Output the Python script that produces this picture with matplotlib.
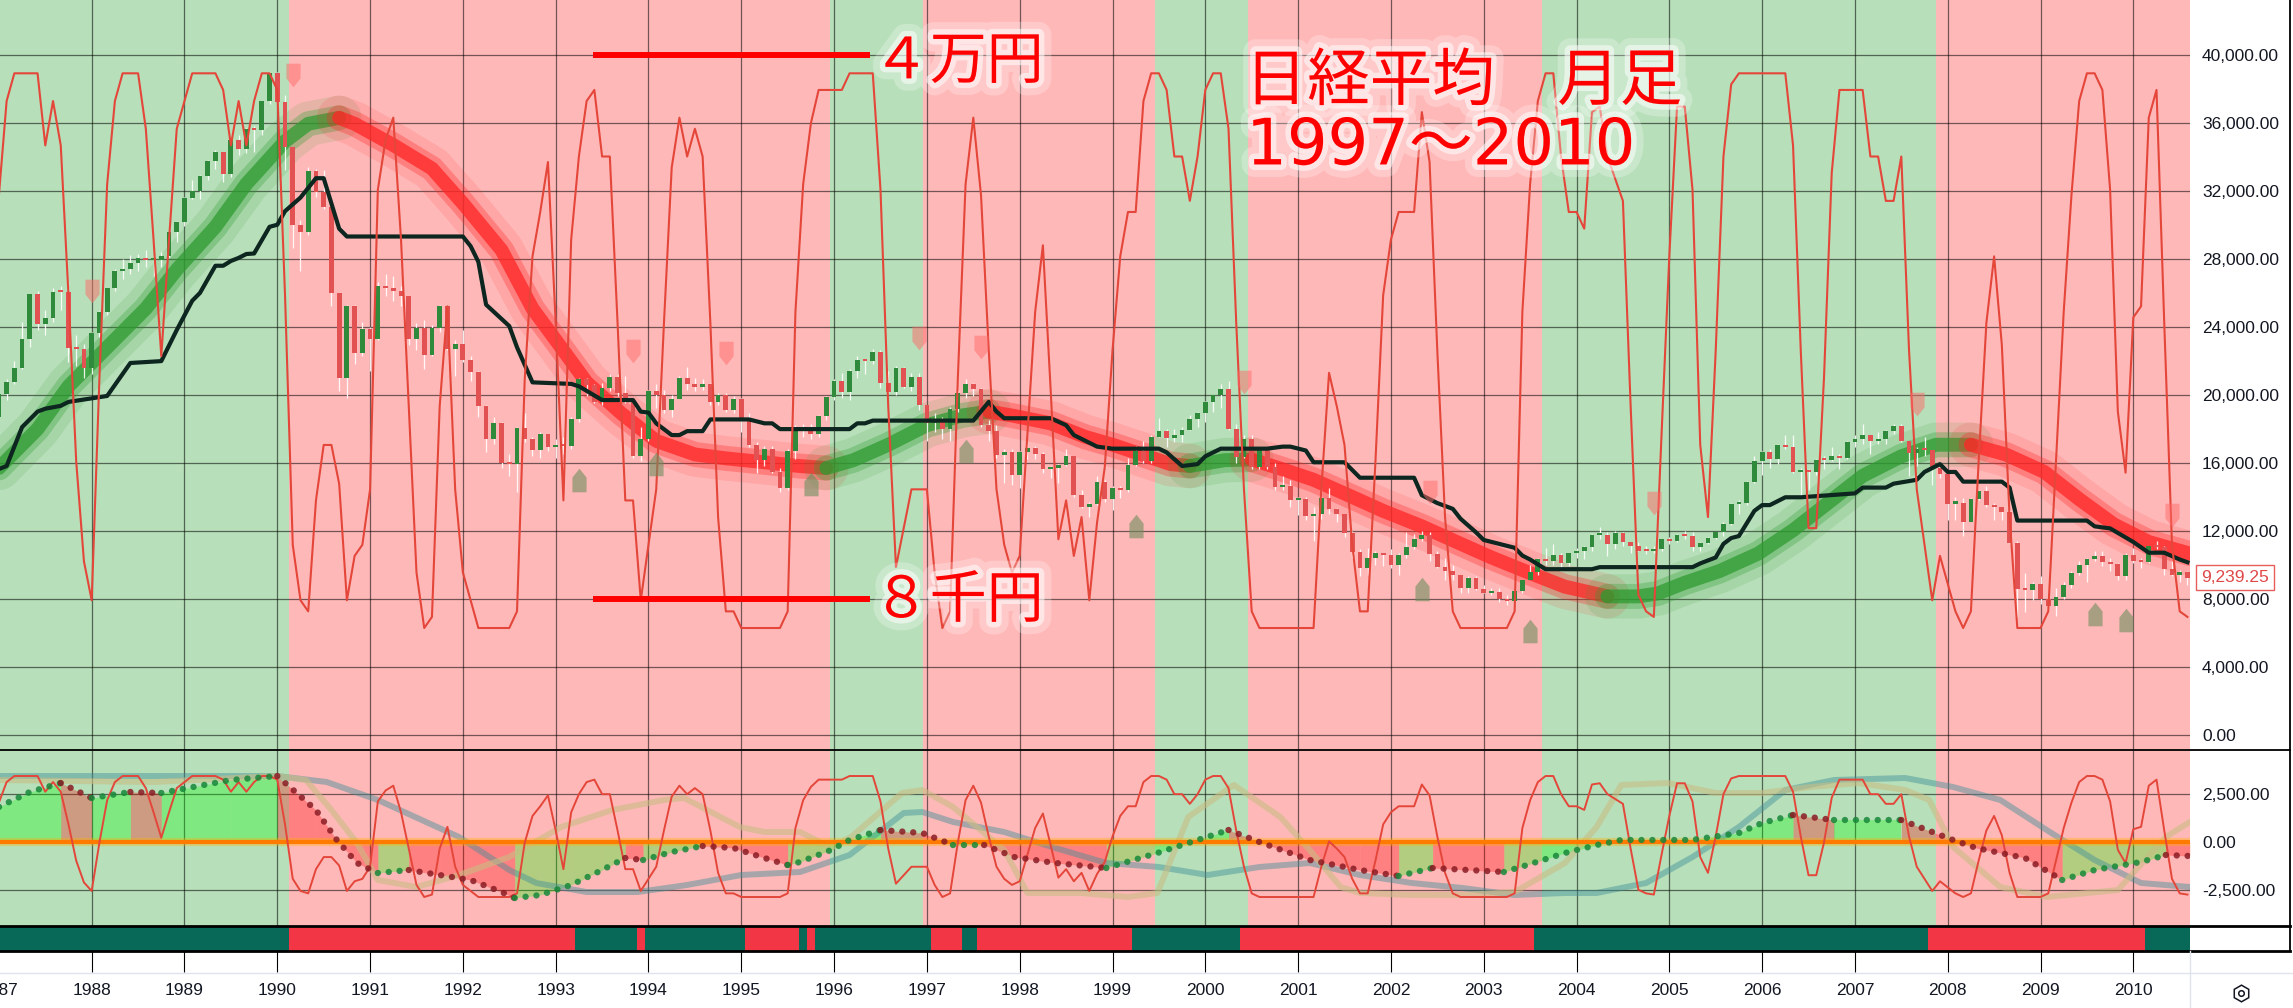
import matplotlib
matplotlib.use("Agg")
import matplotlib.pyplot as plt
import matplotlib.patheffects as pe
import matplotlib.transforms as mtransforms
from matplotlib.lines import Line2D
from matplotlib.path import Path

W, H = 2293, 1008

# ---- data, month index 0 = Jan 1987 ... 283 = Aug 2010 ----
first_open = 18701
closes = [
    20048, 20767, 21566, 23274, 25929, 24176, 24488, 26029, 26011, 22765, 22686, 21564,
    23622, 24872, 26260, 27256, 27417, 27769, 28038, 27923, 27924, 28167, 29579, 30159,
    31581, 31985, 32839, 33713, 34267, 32949, 34954, 34431, 35637, 35549, 37269, 38916,
    37189, 34592, 29980, 29585, 33131, 31940, 31036, 25978, 20984, 25195, 22455, 23849,
    23293, 26409, 26292, 26111, 25790, 23291, 23900, 22336, 23916, 25222, 22687, 22984,
    22023, 21339, 19346, 17391, 18348, 15952, 15910, 18061, 17399, 16767, 17684, 16925,
    17024, 16953, 18591, 20919, 20552, 19590, 20380, 21027, 20106, 19703, 16408, 17417,
    20229, 19997, 19112, 19725, 20974, 20644, 20449, 20629, 19564, 19990, 19076, 19723,
    18650, 17054, 16140, 16807, 15437, 14517, 16678, 18117, 17913, 17655, 18744, 19868,
    20813, 20125, 21407, 22041, 21956, 22531, 20693, 20167, 21556, 20466, 21020, 19361,
    18330, 18557, 18003, 19151, 20068, 20605, 20331, 18229, 17888, 16459, 16636, 15259,
    16628, 16831, 16527, 15641, 15671, 15830, 16379, 14108, 13406, 13564, 14883, 13842,
    14499, 14368, 15837, 16702, 16112, 17530, 17862, 17437, 17606, 17942, 18558, 18934,
    19540, 19960, 20337, 17974, 16332, 17411, 15727, 16861, 15747, 14540, 14649, 13786,
    13844, 12884, 12999, 13934, 13262, 12969, 11861, 10714, 9775, 10367, 10697, 10543,
    9998, 10588, 11025, 11493, 11764, 10622, 9877, 9619, 9383, 8640, 9216, 8579,
    8340, 8363, 7973, 7831, 8425, 9083, 9563, 10344, 10219, 10560, 10101, 10677,
    10784, 11042, 11715, 11762, 11236, 11858, 11326, 11082, 10824, 10771, 10899, 11489,
    11388, 11741, 11669, 11009, 11277, 11584, 11900, 12414, 13574, 13607, 14872, 16111,
    16650, 16206, 17060, 16907, 15468, 15505, 15457, 16141, 16128, 16399, 16274, 17226,
    17383, 17604, 17288, 17400, 17876, 18138, 17249, 16569, 16786, 16737, 15681, 15308,
    13592, 13603, 12526, 13850, 14339, 13481, 13377, 13073, 11260, 8577, 8512, 8860,
    7994, 7568, 8110, 8828, 9523, 9958, 10357, 10493, 10133, 10035, 9346, 10546,
    10198, 10126, 11090, 11057, 9769, 9383, 9537, 9239.25,
]
highs = [
    20400, 20900, 22000, 24300, 25930, 26100, 25000, 26300, 26400, 26650, 23500, 23000,
    23700, 24900, 26300, 27400, 28000, 28200, 28300, 28500, 28100, 28400, 29700, 30200,
    31600, 32600, 32900, 33800, 34400, 34300, 35000, 35300, 35700, 35800, 37300, 38957,
    38950, 37600, 34300, 30300, 33400, 33300, 33200, 31000, 26000, 25300, 25300, 24300,
    24000, 26600, 27100, 27000, 26400, 25800, 24200, 24400, 24100, 25300, 25300, 23200,
    23800, 22300, 21400, 19400, 18700, 18400, 16500, 18100, 18900, 17500, 17800, 17700,
    17400, 17500, 18700, 20950, 21000, 20600, 20700, 21200, 21200, 21100, 19800, 18100,
    20300, 20600, 20300, 20000, 21100, 21600, 21000, 20900, 20700, 20100, 20100, 19900,
    19800, 18900, 17200, 17000, 17000, 15700, 16800, 18200, 18300, 18300, 18800, 19900,
    20900, 21300, 21500, 22300, 22100, 22700, 22600, 21400, 21700, 21600, 21300, 21300,
    19400, 18900, 18700, 19300, 20300, 20900, 20700, 20400, 18500, 18200, 16800, 16800,
    16700, 17300, 17000, 16600, 15800, 15900, 16800, 16400, 14400, 13700, 15200, 15000,
    14600, 14600, 16300, 17000, 17300, 17600, 18600, 18000, 18000, 18100, 18800, 19000,
    19600, 20000, 20600, 20800, 18300, 17600, 17600, 16900, 16900, 16000, 15200, 15000,
    14000, 14000, 13400, 14500, 14500, 13300, 12900, 12000, 10900, 11000, 10800, 10700,
    10900, 10700, 11900, 11800, 12000, 11900, 10800, 10400, 10000, 9400, 9300, 9300,
    8800, 8600, 8600, 8200, 8600, 9100, 10000, 10400, 11000, 11200, 10700, 10700,
    11000, 11100, 11800, 12200, 11900, 12000, 11900, 11300, 11300, 11100, 11100, 11500,
    11600, 11800, 12000, 11900, 11300, 11600, 11900, 12500, 13600, 13800, 14900, 16400,
    16700, 16800, 17100, 17600, 17600, 15700, 15600, 16200, 16400, 16900, 16500, 17300,
    17600, 18300, 17600, 17800, 17900, 18300, 18300, 17300, 16900, 17500, 16600, 16000,
    15400, 14000, 13900, 13900, 14400, 14600, 13600, 13400, 13200, 11400, 9500, 9000,
    9300, 8100, 8600, 9000, 9600, 10200, 10400, 10800, 10800, 10400, 10100, 10700,
    11000, 10400, 11100, 11400, 11100, 10200, 9700, 9600,
]
lows = [
    18500, 19700, 20600, 21500, 22800, 23800, 23500, 24300, 25000, 21900, 21700, 21000,
    21200, 23400, 24700, 26100, 26800, 27100, 27300, 27500, 27000, 27500, 28100, 29000,
    29900, 31500, 31500, 32600, 33300, 32500, 32800, 34100, 34200, 34300, 35300, 37100,
    36900, 33200, 28600, 27300, 29400, 31600, 30900, 25200, 20200, 19800, 21800, 22300,
    21400, 23200, 25800, 25500, 25200, 22900, 22600, 21500, 22300, 23700, 22600, 21100,
    21900, 20800, 18700, 16600, 17100, 15700, 15200, 14300, 17200, 16400, 16300, 16700,
    16300, 16500, 16800, 18400, 19900, 19500, 19400, 20200, 19900, 19500, 16300, 16100,
    17300, 19200, 18900, 18700, 19800, 20300, 20200, 20300, 19400, 19400, 19000, 18900,
    17800, 16900, 15400, 15800, 15400, 14300, 14400, 16200, 17500, 17400, 17500, 18500,
    19700, 19800, 19700, 21000, 21200, 21800, 20400, 20100, 20000, 20400, 20200, 19100,
    17300, 17800, 17400, 17300, 19000, 19800, 19900, 18100, 17300, 16300, 14800, 14700,
    14500, 16200, 16200, 15400, 15100, 14800, 15800, 14000, 13300, 12800, 13500, 13700,
    13200, 13900, 14300, 15800, 16000, 16000, 17500, 16900, 17200, 17200, 17900, 18100,
    18400, 19000, 19200, 17900, 16000, 16300, 15600, 15600, 15600, 14400, 14400, 13400,
    12900, 12600, 11400, 12700, 13000, 12500, 11600, 10400, 9300, 9400, 10000, 9900,
    9800, 9400, 10400, 10900, 11400, 10200, 9800, 9100, 9100, 8300, 8300, 8500,
    8300, 8200, 7800, 7600, 7800, 8300, 9200, 9400, 10000, 10000, 9600, 9900,
    10400, 10300, 10800, 11500, 10500, 10900, 11100, 10700, 10800, 10600, 10700, 10800,
    11200, 11300, 11500, 10800, 10800, 11200, 11500, 11700, 12300, 13000, 13500, 14800,
    15300, 15700, 15900, 16800, 15400, 14000, 14400, 15300, 15600, 16100, 15600, 16200,
    16900, 17100, 16500, 17100, 17100, 17700, 17200, 15200, 15800, 16400, 14700, 15100,
    12600, 12600, 11700, 12600, 13800, 13400, 12600, 12600, 11200, 6900, 7200, 7900,
    7700, 7300, 7000, 8000, 8600, 9400, 9000, 10200, 9900, 9600, 9100, 9100,
    10100, 9800, 10100, 10900, 9400, 9300, 9000, 8800,
]
# stochastic oscillator (0-100), monthly
stoch = [
    78, 95, 100, 100, 100, 100, 87, 95, 87, 60, 30, 12,
    5, 45, 80, 95, 100, 100, 100, 90, 70, 49, 70, 90,
    95, 100, 100, 100, 100, 97, 87, 95, 87, 95, 100, 100,
    97, 60, 15, 5, 3, 23, 33, 33, 26, 5, 13, 15,
    25, 79, 88, 92, 70, 40, 10, 0, 2, 40, 58, 25,
    10, 5, 0, 0, 0, 0, 0, 3, 45, 67, 75, 84,
    55, 23, 70, 85, 95, 97, 85, 85, 55, 23, 23, 5,
    15, 25, 55, 83, 92, 85, 90, 85, 55, 20, 3, 3,
    0, 0, 0, 0, 0, 0, 3, 57, 80, 91, 97, 97,
    97, 97, 100, 100, 100, 100, 79, 40, 11, 18, 25, 25,
    25, 10, 0, 3, 45, 80, 92, 78, 50, 25, 15, 10,
    13, 35, 57, 69, 43, 16, 23, 13, 20, 5, 19, 29,
    50, 67, 75, 75, 95, 100, 100, 97, 85, 85, 77, 85,
    97, 100, 100, 90, 55, 25, 3, 0, 0, 0, 0, 0,
    0, 0, 0, 25, 46, 40, 33, 15, 3, 3, 30, 60,
    70, 75, 75, 75, 93, 84, 50, 20, 3, 0, 0, 0,
    0, 0, 0, 0, 3, 57, 80, 95, 100, 100, 85, 75,
    75, 72, 93, 94, 85, 81, 77, 40, 6, 3, 2, 35,
    67, 94, 94, 79, 33, 20, 50, 85, 98, 100, 100, 100,
    100, 100, 100, 100, 87, 50, 18, 18, 45, 82, 97, 97,
    97, 97, 85, 85, 77, 77, 85, 50, 25, 15, 5, 13,
    8, 3, 0, 3, 30, 55, 67, 51, 20, 0, 0, 0,
    0, 3, 30, 57, 78, 95, 100, 100, 97, 79, 39, 28,
    56, 58, 92, 97, 55, 15, 3, 2,
]
# long smoothed moving average (glowing band)
ma_months = [0, 5, 9, 14, 19, 23, 28, 32, 37, 40, 44, 46, 51, 56, 60, 65, 69, 72.5, 76, 80.5,
             85, 90, 94, 99, 103.5, 107, 110.5, 115, 120, 124.5, 128, 131, 136, 140.5, 144, 147,
             151.5, 154, 158.5, 162, 165.5, 170, 174.5, 179, 184, 188.5, 193, 198, 202.5, 208,
             212, 214.5, 218, 222.5, 227.5, 232, 236.5, 241, 246, 250.5, 255, 259.5, 264.5, 269,
             273.5, 278, 283.3]
ma_values = [15680, 17980, 20490, 22780, 25060, 27350, 29870, 32390, 34900, 35930, 36280, 35930,
             34680, 33300, 31250, 28500, 25060, 22900, 20720, 18890, 17280, 16480, 16250, 16020,
             15800, 15680, 16140, 17050, 18200, 18770, 19000, 18770, 18310, 17510, 17050, 16600,
             15910, 15800, 16140, 16180, 15680, 14990, 14080, 13160, 12250, 11330, 10420, 9500,
             8700, 8130, 8130, 8300, 8930, 9620, 10650, 12020, 13620, 15220, 16370, 17050, 17050,
             16480, 15450, 13850, 12360, 11330, 10650]
# black stepped baseline
base_months = [0, 1, 3, 5, 6, 8, 9, 14, 17, 21, 23, 25, 26, 28, 29, 30, 31, 32, 33, 35, 36, 37,
               39, 41, 42, 43, 44, 45, 60, 61, 62, 63, 66, 67, 69, 74, 75, 78, 82, 83, 84, 85, 87,
               88, 89, 91, 92, 97, 99, 100, 101, 110, 111, 112, 113, 126, 128, 129, 130, 136, 138,
               139, 142, 144, 150, 151, 153, 155, 156, 158, 164, 166, 167, 169, 170, 174, 176,
               183, 184, 186, 188, 189, 191, 192, 194, 196, 197, 198, 200, 206, 207, 219, 220,
               222, 223, 224, 225, 227, 228, 229, 231, 233, 240, 241, 244, 245, 248, 249, 251,
               252, 253, 254, 259, 260, 261, 270, 271, 273, 276, 278, 280, 282, 283]
base_values = [15620, 15800, 18090, 19000, 19170, 19340, 19570, 19920, 21860, 21970, 23800, 25520,
               25980, 27580, 27580, 27860, 28040, 28270, 28300, 29870, 29990, 30790, 31590, 32730,
               32730, 31240, 29760, 29300, 29300, 28730, 27810, 25290, 24030, 22780, 20720, 20630,
               20490, 19680, 19680, 19000, 18940, 18310, 17620, 17620, 17850, 17850, 18540, 18540,
               18310, 18310, 17970, 17970, 18310, 18310, 18470, 18470, 19570, 19000, 18610, 18610,
               18200, 17620, 16940, 16820, 16820, 16600, 15800, 15910, 16370, 16820, 16820, 16940,
               16940, 16710, 16020, 16020, 15110, 15110, 14080, 13620, 13280, 12700, 11900, 11450,
               11220, 10990, 10530, 10300, 9730, 9730, 9850, 9850, 10070, 10420, 11220, 11560,
               11680, 13160, 13500, 13500, 13960, 13960, 14190, 14530, 14530, 14760, 14990, 15450,
               15910, 15450, 15450, 14880, 14880, 14530, 12590, 12590, 12250, 12130, 11330, 10700,
               10700, 10300, 10140]
# lower panel: dotted oscillator, two slow lines
osc_months = [0, 4, 8, 12, 17, 21, 26.5, 30, 36, 38.5, 41, 43.7, 46.3, 49, 53, 57, 61, 65, 66.7,
              70, 74, 78, 81, 83.3, 87, 91, 95, 99, 102, 103.6, 107.6, 110, 114, 119.4, 123.4,
              127.4, 131.3, 136.6, 143.2, 149.8, 155, 159, 163, 169.5, 176, 181, 185.4, 194.6,
              197.2, 202.5, 206.6, 209.8, 218.9, 225, 228, 232, 237.3, 246, 252.7, 255.7, 262,
              266.8, 271, 277, 280.2, 283.3]
osc_values = [1815, 2594, 3060, 2282, 2594, 2542, 2957, 3216, 3423, 2542, 1660, 104, -1089, -1608,
              -1452, -1712, -1971, -2594, -2905, -2749, -2230, -1452, -830, -934, -519, -207, -311,
              -830, -1193, -1037, -415, 104, 622, 467, -156, -156, -778, -1089, -1349, -571, 104,
              622, 0, -934, -1452, -1764, -1349, -1556, -1245, -571, -156, 104, 104, 467, 986,
              1400, 1141, 1141, 104, -311, -830, -1971, -1452, -1037, -674, -726]
teal_months = [0, 36, 42.4, 49, 59.5, 66, 69.5, 76, 82.6, 89, 96, 103.6, 110, 117, 119.4, 123.4,
               130, 136.6, 143.2, 150, 156.3, 163, 169.5, 176, 182.7, 189.3, 196, 202.5, 206.6,
               213, 219, 225, 231, 237.3, 246.5, 252.7, 258.8, 264.8, 271, 277, 283.3]
teal_values = [3423, 3423, 3112, 2179, 259, -1452, -2127, -2594, -2594, -2230, -1712, -1556, -674,
               1504, 1556, 1037, 519, -311, -1089, -1297, -1712, -1297, -1089, -1712, -2127,
               -2386, -2749, -2645, -2645, -2127, -778, 778, 2697, 3216, 3320, 2853, 2179, 622,
               -934, -2127, -2334]
beige_months = [0, 20, 36, 39.7, 43, 46.3, 49, 54, 59.5, 66, 72.7, 79.3, 86, 88.6, 95.8, 99,
                103.6, 107.6, 110.2, 116.8, 119.4, 123.4, 130, 133, 140, 146, 149.8, 153.8, 159.7,
                165.7, 169.5, 173.5, 176, 182.7, 189.3, 196, 202.5, 206.6, 209.8, 215.8, 222, 228,
                234.3, 240.4, 246.5, 249.6, 252.7, 258.8, 264.8, 274, 280.2, 283.3]
beige_values = [3216, 3112, 3423, 3216, 1660, -52, -1971, -2334, -1712, -778, 778, 1660, 2179,
                2282, 778, 519, 519, -300, 259, 2542, 2697, 1815, -415, -2645, -2645, -2853,
                -2645, 1297, 2957, 1297, -415, -2334, -2645, -2749, -2749, -2594, -1089, 778,
                2957, 3060, 2542, 2542, 2853, 3060, 2697, 2179, -259, -2334, -2853, -2490, 259,
                1037]
# regime colouring: months where the state flips (starts green)
bg_flips = [38, 108, 120, 150, 162, 200, 251]
strip_flips = [38, 75, 83, 84, 97, 104, 105, 106, 121, 125, 127, 147, 161, 199, 250, 278]
# signal labels
sell_months = [12, 38, 82, 94, 119, 127, 161, 185, 214, 248, 281]
sell_prices = [26080, 38800, 22560, 22450, 23350, 22800, 20720, 14300, 13620, 19460, 12930]
buy_months = [75, 85, 105, 125, 147, 184, 198, 271, 275]
buy_prices = [14990, 15920, 14760, 16710, 12270, 8590, 6070, 7090, 6750]

years = list(range(1988, 2011))
main_ticks = list(range(0, 40001, 4000))
low_ticks = [-2500, 0, 2500]
last_price = 9239.25

GREEN_BG, PINK_BG = "#b7dfb9", "#ffb8b8"
plt.rcParams["font.family"] = ["Liberation Sans", "DejaVu Sans"]

fig = plt.figure(figsize=(W / 100, H / 100), dpi=100)


def fx(px):
    return px / W


def fy(py):
    return 1 - py / H


ax = fig.add_axes([0, fy(750), fx(2190), 750 / H])
axl = fig.add_axes([0, fy(926), fx(2190), 176 / H])
axs = fig.add_axes([0, fy(951), fx(2190), 25 / H])
n = len(closes)
idx = list(range(n))
year_months = [(y - 1987) * 12 for y in years]


def runs(flips, n):
    edges = [0] + flips + [n]
    return [(edges[k], edges[k + 1], k % 2 == 0) for k in range(len(edges) - 1)]


def slope_runs(xs, ys):
    out = []
    cx, cy = [xs[0]], [ys[0]]
    cur = ys[1] >= ys[0]
    for k in range(1, len(xs)):
        up = ys[k] >= ys[k - 1]
        if up != cur:
            out.append((cur, cx, cy))
            cx, cy = [xs[k - 1]], [ys[k - 1]]
            cur = up
        cx.append(xs[k])
        cy.append(ys[k])
    out.append((cur, cx, cy))
    return out


for a in (ax, axl, axs):
    a.set_xlim(0.144, 283.33)
    a.set_facecolor("none")
    for s in a.spines.values():
        s.set_visible(False)

# backgrounds
for a in (ax, axl):
    for s0, s1, green in runs(bg_flips, n):
        a.axvspan(s0 - 0.5, s1 - 0.5, color=GREEN_BG if green else PINK_BG, lw=0, zorder=0)
    for m in year_months:
        a.axvline(m, color="black", lw=0.9, alpha=0.55, zorder=1.5)

for s0, s1, green in runs(strip_flips, n):
    axs.axvspan(s0 - 0.5, s1 - 0.5, color="#096958" if green else "#f23645", lw=0)

# ---- main panel ----
ax.set_ylim(-906, 43212)
for v in main_ticks:
    ax.axhline(v, color="black", lw=0.9, alpha=0.55, zorder=1.5)

for rising, xs, ys in slope_runs(ma_months, ma_values):
    col = "#2e9b30" if rising else "#ff2626"
    ax.plot(xs, ys, color=col, lw=32, alpha=0.12, solid_capstyle="round", zorder=3)
    ax.plot(xs, ys, color=col, lw=18, alpha=0.3, solid_capstyle="round", zorder=3)
    ax.plot(xs, ys, color=col, lw=10, alpha=0.75, solid_capstyle="round", zorder=3)

opens = [first_open] + closes[:-1]
ax.vlines(idx, lows, highs, color="white", lw=0.9, alpha=0.9, zorder=4)
ax.bar(idx, [max(abs(c - o), 120) for o, c in zip(opens, closes)],
       bottom=[min(o, c) for o, c in zip(opens, closes)], width=0.62, lw=0,
       color=["#2f8a3c" if c >= o else "#e25252" for o, c in zip(opens, closes)], zorder=5)

ax.plot(base_months, base_values, color="#0d2620", lw=3.0, zorder=6)
ax.plot(idx, [6270 + 326.3 * s for s in stoch], color="#e4463a", lw=1.5, zorder=7)

down_tag = Path([(-0.6, 1), (0.6, 1), (0.6, -0.25), (0, -1), (-0.6, -0.25), (-0.6, 1)],
                [Path.MOVETO] + [Path.LINETO] * 4 + [Path.CLOSEPOLY])
up_tag = Path([(-0.6, -1), (0.6, -1), (0.6, 0.25), (0, 1), (-0.6, 0.25), (-0.6, -1)],
              [Path.MOVETO] + [Path.LINETO] * 4 + [Path.CLOSEPOLY])
ax.plot(sell_months, sell_prices, ls="none", marker=down_tag, ms=17, mew=0,
        mfc="#ff6b6b", alpha=0.5, zorder=8)
ax.plot(buy_months, buy_prices, ls="none", marker=up_tag, ms=17, mew=0,
        mfc="#6f8f5f", alpha=0.6, zorder=8)

glow = [pe.Stroke(linewidth=18, foreground="white", alpha=0.25),
        pe.Stroke(linewidth=8, foreground="white", alpha=0.55), pe.Normal()]
jp = ["Noto Sans CJK JP", "DejaVu Sans"]
digits_jp = ["DejaVu Sans", "Noto Sans CJK JP"]
ax.hlines([40000, 8000], 76.8, 112.6, color="#ff0000", lw=4.3, zorder=9)
ax.text(113.0, 39560, "４万円", fontsize=41, color="#ff0000", family=jp,
        ha="left", va="center", path_effects=glow, zorder=10)
ax.text(113.0, 7860, "８千円", fontsize=41, color="#ff0000", family=jp,
        ha="left", va="center", path_effects=glow, zorder=10)
ax.text(161.1, 38390, "日経平均　月足", fontsize=45, color="#ff0000", family=jp,
        ha="left", va="center", path_effects=glow, zorder=10)
ax.text(161.3, 34600, "1997～2010", fontsize=46, color="#ff0000", family=digits_jp,
        ha="left", va="center", path_effects=glow, zorder=10)

ax.yaxis.tick_right()
ax.set_yticks(main_ticks)
ax.set_yticklabels([f"{v:,.2f}" for v in main_ticks])
ax.tick_params(axis="y", length=0, pad=8.6, labelsize=12.5, labelcolor="#131722")
ax.tick_params(axis="x", bottom=False, labelbottom=False)

box_tr = mtransforms.blended_transform_factory(ax.transAxes, ax.transData)
ax.text(2201 / 2190, last_price, f"{last_price:,.2f}", transform=box_tr, ha="left",
        va="center", fontsize=12.5, color="#e04848", clip_on=False, zorder=11,
        bbox=dict(boxstyle="square,pad=0.3", fc="white", ec="#e85c5c", lw=1))

# ---- lower panel ----
axl.set_ylim(-4357, 4772)
for v in (-2500, 2500):
    axl.axhline(v, color="black", lw=0.9, alpha=0.55, zorder=1.5)
for k in range(len(osc_months) - 1):
    xs = osc_months[k:k + 2]
    ys = osc_values[k:k + 2]
    col = "#00ff00" if ys[1] >= ys[0] else "#ff0000"
    axl.fill_between(xs, ys, 0, color=col, alpha=0.3, lw=0, zorder=2)
axl.plot(teal_months, teal_values, color="#3f8f9a", lw=4.3, alpha=0.45, zorder=3,
         solid_capstyle="round")
axl.plot(beige_months, beige_values, color="#c9bd85", lw=4.3, alpha=0.6, zorder=3,
         solid_capstyle="round")
axl.axhline(0, color="#ffb300", lw=6, alpha=0.35, zorder=3.5)
axl.axhline(0, color="#ff7b00", lw=3, zorder=3.6)
axl.plot(idx, [-2853 + 62.76 * s for s in stoch], color="#e4463a", lw=1.4, zorder=4)
for rising, xs, ys in slope_runs(osc_months, osc_values):
    axl.plot(xs, ys, color="#17883a" if rising else "#8b1c24", lw=4.6, alpha=0.85,
             ls=(0, (0.01, 1.7)), dash_capstyle="round", zorder=5)
axl.yaxis.tick_right()
axl.set_yticks(low_ticks)
axl.set_yticklabels([f"{v:,.2f}" for v in low_ticks])
axl.tick_params(axis="y", length=0, pad=8.6, labelsize=12.5, labelcolor="#131722")
axl.tick_params(axis="x", bottom=False, labelbottom=False)

# ---- bottom strip + time axis ----
axs.set_ylim(0, 1)
axs.set_yticks([])
axs.set_xticks(year_months)
axs.set_xticklabels([str(y) for y in years])
axs.tick_params(axis="x", length=15, width=0.8, direction="out", pad=8.0,
                labelsize=12.5, labelcolor="#131722")
axs.text(0, 0, "1987", fontsize=12.5, color="#131722", ha="center", va="top", clip_on=False,
         transform=mtransforms.offset_copy(axs.get_xaxis_transform(), fig=fig,
                                           y=-(15 + 8.0), units="points"))

# panel separators and frame
for y_px, lw in ((750, 1.3), (926, 2.0), (951, 2.0)):
    fig.add_artist(Line2D([0, fx(2290)], [fy(y_px), fy(y_px)], color="black", lw=lw))
fig.add_artist(Line2D([fx(2290), fx(2290)], [fy(0), fy(951)], color="black", lw=1.3))
fig.add_artist(Line2D([0, 1], [fy(973), fy(973)], color="#e0e3eb", lw=1))
fig.add_artist(Line2D([fx(2190), fx(2190)], [fy(951), 0], color="#e0e3eb", lw=1))
fig.add_artist(Line2D([fx(2241)], [fy(993)], marker="h", ms=12, mfc="none", mec="#131722",
                      mew=1.1, ls="none"))
fig.add_artist(Line2D([fx(2241)], [fy(993)], marker="o", ms=4, mfc="none", mec="#131722",
                      mew=1.1, ls="none"))

fig.savefig("out.png", dpi=100)
